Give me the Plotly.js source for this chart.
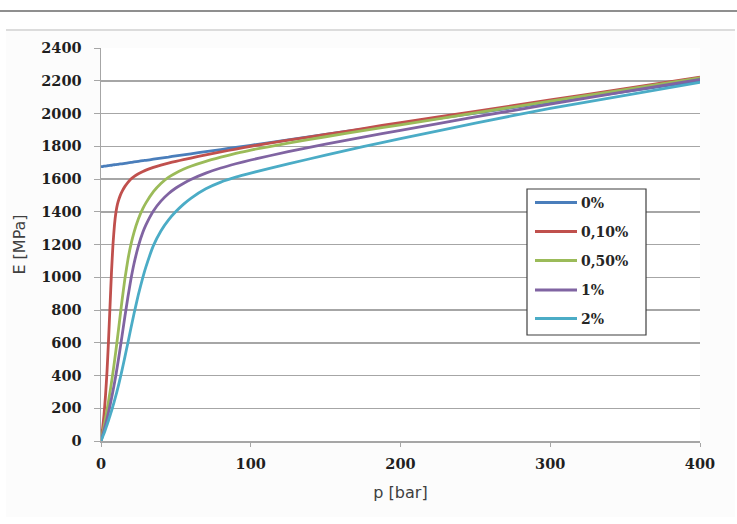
<!DOCTYPE html>
<html>
<head>
<meta charset="utf-8">
<script src="https://cdn.plot.ly/plotly-3.0.1.min.js"></script>
<style>
  html, body { margin: 0; padding: 0; background: #ffffff; width: 737px; height: 524px; overflow: hidden; }
  #topline { position: absolute; left: 0; top: 10px; width: 737px; height: 2px; background: #8f8f8f; }
  #frame { position: absolute; left: 6px; top: 29px; width: 729px; height: 486px; background: #fcfcfc; border-top: 2px solid #dcdcdc; }
  #chart { position: absolute; left: 0; top: 0; width: 737px; height: 524px; }
</style>
</head>
<body>
<div id="topline"></div>
<div id="frame"></div>
<div id="chart"></div>
<script>
// pressure p [bar]
const p = [0,1,2,3,4,5,6,7,8,9,10,11,12,13,14,16,18,20,22,25,28,30,35,40,45,50,55,60,70,80,90,100,125,150,175,200,250,300,350,400];

// E [MPa] for each air content
const e0   = [1675,1676,1678,1679,1680,1682,1683,1684,1686,1687,1688,1689,1691,1692,1693,1696,1699,1701,1704,1708,1712,1714,1721,1728,1734,1741,1747,1754,1767,1780,1793,1806,1839,1872,1905,1938,2003,2069,2134,2200];
const e010 = [0,70,160,275,423,608,820,1030,1200,1320,1398,1447,1478,1503,1523,1555,1580,1600,1615,1632,1646,1654,1671,1685,1697,1708,1718,1728,1747,1765,1783,1800,1837,1872,1908,1945,2013,2083,2152,2222];
const e050 = [0,43,89,137,188,242,298,357,420,486,556,629,704,780,855,993,1109,1201,1273,1357,1420,1454,1523,1573,1610,1637,1659,1678,1708,1733,1756,1777,1819,1858,1895,1931,2004,2075,2146,2217];
const e1   = [0,31,64,99,136,175,216,260,306,354,405,461,519,578,639,763,881,989,1081,1192,1276,1320,1405,1465,1510,1545,1573,1597,1636,1667,1693,1716,1767,1813,1856,1897,1979,2057,2133,2208];
const e2   = [0,23,46,71,98,125,154,183,214,247,280,315,352,391,431,515,602,690,776,896,1001,1063,1193,1283,1349,1401,1445,1482,1540,1581,1611,1636,1692,1746,1797,1846,1941,2031,2111,2190];

const names  = ["0%", "0,10%", "0,50%", "1%", "2%"];
const series = [e0, e010, e050, e1, e2];
const colors = ["#4a7ebb", "#c0504d", "#9bbb59", "#8064a2", "#4bacc6"];

const xTicks = [0, 100, 200, 300, 400];
const yTicks = [0,200,400,600,800,1000,1200,1400,1600,1800,2000,2200,2400];

const boldFont = "DejaVu Serif, Liberation Serif, serif";
const tickFont = {family: boldFont, size: 14.5, color: "#1f1f1f", weight: "bold"};
const titleFont = {family: "DejaVu Sans, Liberation Sans, sans-serif", size: 16, color: "#404040"};

const traces = series.map((ys, i) => ({
  x: p, y: ys, name: names[i], type: "scatter", mode: "lines",
  line: {color: colors[i], width: 2.8, shape: "spline", smoothing: 0.4},
  showlegend: false
}));

// legend drawn in paper coordinates (plot area: x 101..700 px, y 48..441 px)
const px = v => (v - 101) / 599;
const py = v => (441 - v) / 393;
const rowY = [202.5, 231.5, 260.5, 290, 318.5];
const shapes = [{
  type: "rect", xref: "paper", yref: "paper",
  x0: px(527), x1: px(646), y0: py(335), y1: py(189),
  fillcolor: "#ffffff", line: {color: "#3f3f3f", width: 1.2}, layer: "above"
}];
const annotations = [];
names.forEach((n, i) => {
  shapes.push({
    type: "line", xref: "paper", yref: "paper",
    x0: px(535), x1: px(577), y0: py(rowY[i]), y1: py(rowY[i]),
    line: {color: colors[i], width: 3}, layer: "above"
  });
  annotations.push({
    xref: "paper", yref: "paper", x: px(579), y: py(rowY[i]),
    xanchor: "left", yanchor: "middle", showarrow: false, text: n,
    font: {family: boldFont, size: 14, color: "#262626", weight: "bold"}
  });
});

const layout = {
  width: 737, height: 524,
  margin: {l: 101, r: 37, t: 48, b: 83},
  paper_bgcolor: "rgba(0,0,0,0)",
  plot_bgcolor: "#ffffff",
  showlegend: false,
  shapes: shapes,
  annotations: annotations,
  xaxis: {
    range: [0, 400], tickvals: xTicks, ticktext: xTicks.map(String),
    showgrid: false, zeroline: false,
    showline: true, linecolor: "#a6a6a6", linewidth: 1.5,
    ticks: "outside", ticklen: 4, tickcolor: "#a6a6a6",
    ticklabelstandoff: 5,
    tickfont: tickFont,
    title: {text: "p [bar]", font: titleFont, standoff: 16}
  },
  yaxis: {
    range: [0, 2400], tickvals: yTicks, ticktext: yTicks.map(String),
    showgrid: true, gridcolor: "#a6a6a6", gridwidth: 1.5,
    zeroline: false,
    showline: true, linecolor: "#a6a6a6", linewidth: 1.5,
    ticks: "outside", ticklen: 6, tickcolor: "#a6a6a6",
    ticklabelstandoff: 9,
    tickfont: tickFont,
    title: {text: "E [MPa]", font: titleFont, standoff: 11}
  }
};

Plotly.newPlot("chart", traces, layout, {displayModeBar: false, staticPlot: true});
</script>
</body>
</html>
